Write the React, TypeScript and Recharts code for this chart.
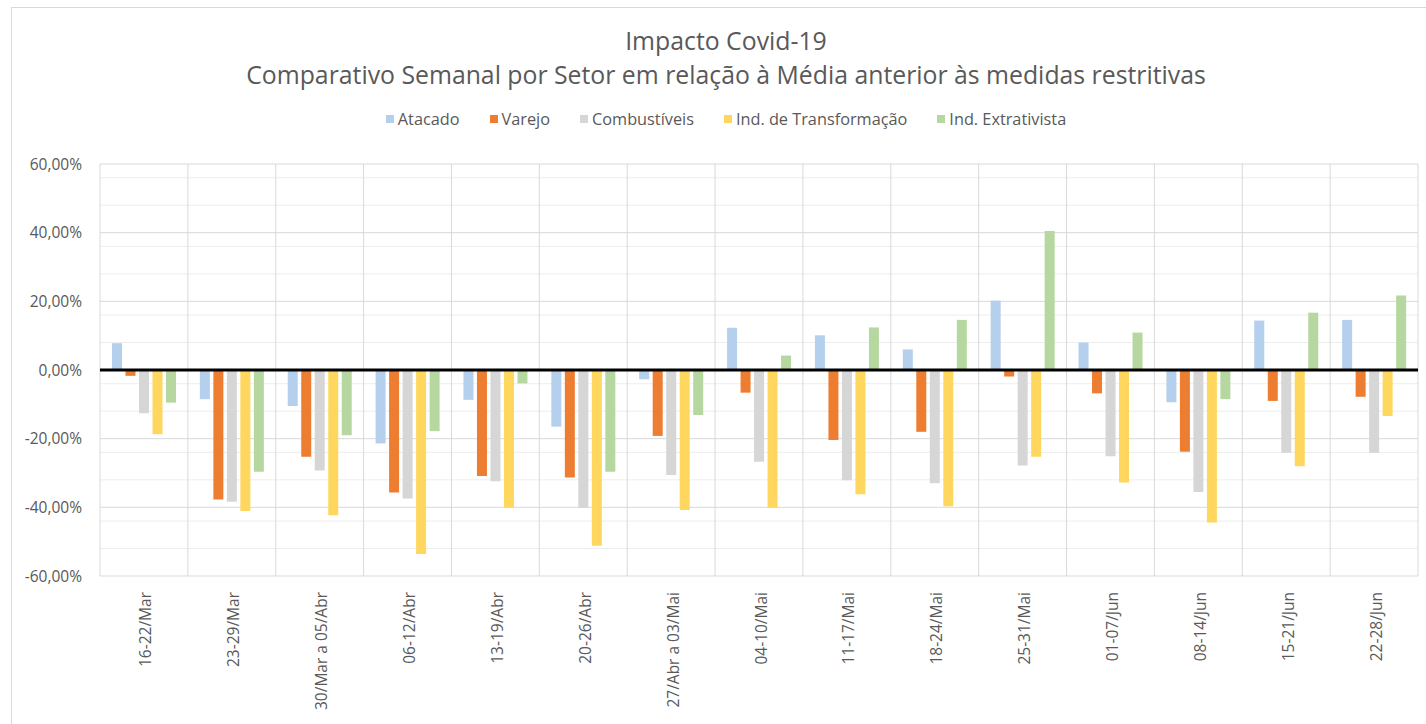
import React from 'react';
import { BarChart, Bar, XAxis, YAxis, CartesianGrid, ReferenceLine, Legend } from 'recharts';

const categories = [
  '16-22/Mar', '23-29/Mar', '30/Mar a 05/Abr', '06-12/Abr', '13-19/Abr', '20-26/Abr',
  '27/Abr a 03/Mai', '04-10/Mai', '11-17/Mai', '18-24/Mai', '25-31/Mai', '01-07/Jun',
  '08-14/Jun', '15-21/Jun', '22-28/Jun',
];
const atacado = [7.8, -8.5, -10.5, -21.4, -8.7, -16.5, -2.7, 12.3, 10.1, 6.0, 20.2, 8.0, -9.4, 14.4, 14.6];
const varejo = [-1.7, -37.7, -25.3, -35.7, -30.9, -31.3, -19.2, -6.6, -20.4, -18.0, -1.9, -6.8, -23.8, -9.0, -7.8];
const combustiveis = [-12.6, -38.4, -29.3, -37.4, -32.4, -40.1, -30.6, -26.7, -32.1, -33.0, -27.8, -25.1, -35.5, -24.1, -24.1];
const transformacao = [-18.7, -41.1, -42.3, -53.6, -40.1, -51.2, -40.8, -40.1, -36.2, -39.7, -25.3, -32.8, -44.4, -28.0, -13.4];
const extrativista = [-9.5, -29.6, -19.0, -17.8, -3.9, -29.6, -13.1, 4.2, 12.4, 14.6, 40.5, 10.9, -8.5, 16.7, 21.7];

const seriesKeys = ['atacado', 'varejo', 'combustiveis', 'transformacao', 'extrativista'];
const seriesNames = ['Atacado', 'Varejo', 'Combustíveis', 'Ind. de Transformação', 'Ind. Extrativista'];
const seriesColors = ['#B4D0EC', '#ED7D31', '#D6D6D6', '#FFD75E', '#B6D7A0'];
const seriesValues = [atacado, varejo, combustiveis, transformacao, extrativista];

const majorTicks = [-60, -40, -20, 0, 20, 40, 60];
const minorTicks = [-56, -52, -48, -44, -36, -32, -28, -24, -16, -12, -8, -4, 4, 8, 12, 16, 24, 28, 32, 36, 44, 48, 52, 56];

const titleLine1 = 'Impacto Covid-19';
const titleLine2 = 'Comparativo Semanal por Setor em relação à Média anterior às medidas restritivas';

const data = categories.map((c, i) => {
  const row: Record<string, string | number> = { name: c };
  seriesKeys.forEach((k, j) => { row[k] = seriesValues[j][i]; });
  return row;
});

const FONT = '"Open Sans", sans-serif';
const TEXT = '#595959';

const fmt = (v: number) => `${v.toFixed(2).replace('.', ',')}%`;

const XTick = (props: any) => {
  const { x, y, payload } = props;
  return (
    <text
      transform={`translate(${x + 7.5},${y + 14}) rotate(-90)`}
      textAnchor="end"
      fill={TEXT}
      fontSize={15.5}
      fontFamily={FONT}
    >
      {payload.value}
    </text>
  );
};

const LegendContent = () => (
  <div style={{ display: 'flex', justifyContent: 'center', alignItems: 'center', fontFamily: FONT, fontSize: 16.3, color: TEXT, lineHeight: '20px' }}>
    {seriesNames.map((n, i) => (
      <div key={n} style={{ display: 'flex', alignItems: 'center', marginLeft: i === 0 ? 0 : 30 }}>
        <span style={{ display: 'inline-block', width: 8, height: 8, background: seriesColors[i], marginRight: 4 }} />
        <span>{n}</span>
      </div>
    ))}
  </div>
);

const gridX = ({ offset }: any) =>
  categories.map((_, i) => offset.left + (i * offset.width) / categories.length).concat([offset.left + offset.width]);

export default function App() {
  return (
    <div style={{ position: 'absolute', left: 0, top: 0, width: 1426, height: 724, background: '#fff', overflow: 'hidden' }}>
      <div style={{ position: 'absolute', left: 11, top: 7, width: 1500, height: 800, border: '1px solid #D9D9D9', boxSizing: 'border-box' }} />
      <svg style={{ position: 'absolute', left: 0, top: 0 }} width={1426} height={110}>
        <text x={726} y={50} textAnchor="middle" fontFamily={FONT} fontSize={24.8} fill={TEXT}>{titleLine1}</text>
        <text x={726} y={84} textAnchor="middle" fontFamily={FONT} fontSize={24.8} fill={TEXT}>{titleLine2}</text>
      </svg>
      <div style={{ position: 'absolute', left: 0, top: 0 }}>
        <BarChart
          width={1426}
          height={724}
          data={data}
          margin={{ top: 164, right: 8, bottom: 0, left: 10 }}
          barSize={10}
          barGap={3.5}
        >
          <CartesianGrid
            horizontal={true}
            vertical={false}
            stroke="#EDEDED"
            horizontalValues={minorTicks}
          />
          <CartesianGrid
            horizontal={true}
            vertical={true}
            stroke="#D9D9D9"
            horizontalValues={majorTicks}
            verticalCoordinatesGenerator={gridX}
          />
          <XAxis
            dataKey="name"
            height={148}
            interval={0}
            axisLine={false}
            tickLine={false}
            tickSize={0}
            tick={<XTick />}
          />
          <YAxis
            width={90}
            domain={[-60, 60]}
            ticks={majorTicks}
            axisLine={false}
            tickLine={false}
            tickSize={0}
            tickMargin={18}
            tickFormatter={fmt}
            tick={{ fill: TEXT, fontSize: 15.5, fontFamily: FONT }}
            allowDataOverflow={true}
          />
          <Legend
            verticalAlign="middle"
            align="center"
            layout="horizontal"
            wrapperStyle={{ top: 109, left: 0, width: 1452, height: 20 }}
            content={<LegendContent />}
          />
          {seriesKeys.map((k, j) => (
            <Bar key={k} dataKey={k} name={seriesNames[j]} fill={seriesColors[j]} isAnimationActive={false} />
          ))}
          <ReferenceLine y={0} stroke="#000" strokeWidth={3} />
        </BarChart>
      </div>
    </div>
  );
}
